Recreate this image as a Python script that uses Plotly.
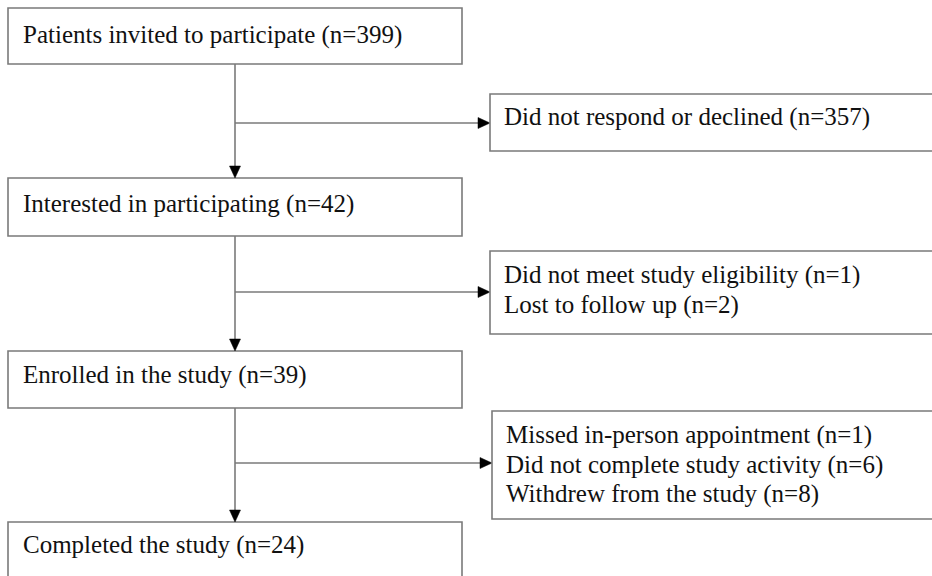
import plotly.graph_objects as go

# ---- data ----
stage_labels = ["Patients invited to participate", "Interested in participating",
                "Enrolled in the study", "Completed the study"]
stage_counts = [399, 42, 39, 24]
excl_labels = [["Did not respond or declined"],
               ["Did not meet study eligibility", "Lost to follow up"],
               ["Missed in-person appointment", "Did not complete study activity",
                "Withdrew from the study"]]
excl_counts = [[357], [1, 2], [1, 6, 8]]

# ---- layout (pixel space) ----
W, H = 932, 576
main_x0, main_x1 = 8, 462
main_boxes = [(8, 64), (178, 236), (351, 408), (522, 600)]
main_text_y = [35, 204, 375, 545]
side_x0 = [490, 490, 492]
side_boxes = [(94, 151), (251, 334), (411, 519)]
side_text_y0 = [117, 275, 435]
side_line_gap = [30, 30, 29.5]
branch_y = [123, 292, 463]
spine_x = 235

LINE = "#7a7a7a"
FONT = dict(family="Liberation Serif, Times New Roman, serif", size=25, color="#111111")

shapes = []
annotations = []

def rect(x0, y0, x1, y1):
    shapes.append(dict(type="rect", xref="x", yref="y", x0=x0, x1=x1, y0=y0, y1=y1,
                       line=dict(color=LINE, width=1.6), fillcolor="white", layer="above"))

def line(x0, y0, x1, y1):
    shapes.append(dict(type="line", xref="x", yref="y", x0=x0, x1=x1, y0=y0, y1=y1,
                       line=dict(color=LINE, width=1.6), layer="above"))

def head_down(x, y):
    shapes.append(dict(type="path", xref="x", yref="y",
                       path=f"M {x-5.5} {y-12} L {x+5.5} {y-12} L {x} {y} Z",
                       fillcolor="black", line=dict(color="black", width=0.5), layer="above"))

def head_right(x, y):
    shapes.append(dict(type="path", xref="x", yref="y",
                       path=f"M {x-12} {y-5.5} L {x-12} {y+5.5} L {x} {y} Z",
                       fillcolor="black", line=dict(color="black", width=0.5), layer="above"))

for i, (lab, n) in enumerate(zip(stage_labels, stage_counts)):
    y0, y1 = main_boxes[i]
    rect(main_x0, y0, main_x1, y1)
    annotations.append(dict(x=main_x0 + 13, y=main_text_y[i], xref="x", yref="y",
                            text=f"{lab} (n={n})", showarrow=False,
                            xanchor="left", yanchor="middle", font=FONT))

for i in range(3):
    top = main_boxes[i][1]
    bot = main_boxes[i + 1][0]
    line(spine_x, top, spine_x, bot - 10)
    head_down(spine_x, bot)
    line(spine_x, branch_y[i], side_x0[i] - 10, branch_y[i])
    head_right(side_x0[i], branch_y[i])
    y0, y1 = side_boxes[i]
    rect(side_x0[i], y0, 945, y1)
    for j, (lab, n) in enumerate(zip(excl_labels[i], excl_counts[i])):
        annotations.append(dict(x=side_x0[i] + 12, y=side_text_y0[i] + j * side_line_gap[i],
                                xref="x", yref="y", text=f"{lab} (n={n})", showarrow=False,
                                xanchor="left", yanchor="middle", font=FONT))

fig = go.Figure()
fig.add_trace(go.Scatter(x=[0, W], y=[0, H], mode="markers",
                         marker=dict(opacity=0), hoverinfo="skip", showlegend=False))
fig.update_layout(
    width=W, height=H, margin=dict(l=0, r=0, t=0, b=0),
    paper_bgcolor="white", plot_bgcolor="white",
    xaxis=dict(range=[0, W], visible=False, fixedrange=True),
    yaxis=dict(range=[H, 0], visible=False, fixedrange=True),
    shapes=shapes, annotations=annotations, showlegend=False,
)
fig.write_html("out.html", config={"displayModeBar": False},
               post_script="document.body.style.margin='0';document.body.style.overflow='hidden';")
